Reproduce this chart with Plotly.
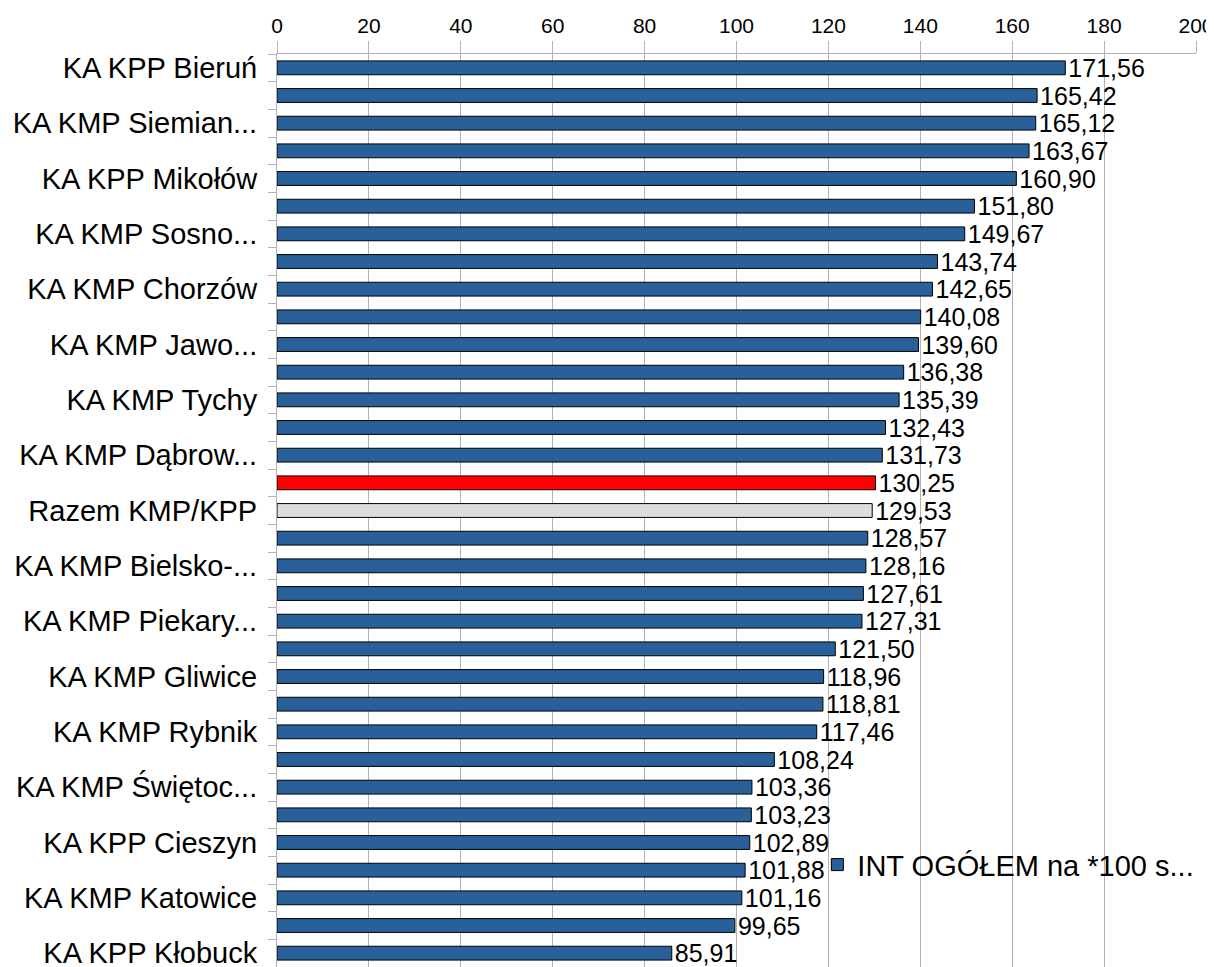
import plotly.graph_objects as go

labels = [
    "KA KPP Bieruń", "", "KA KMP Siemian...", "", "KA KPP Mikołów", "",
    "KA KMP Sosno...", "", "KA KMP Chorzów", "", "KA KMP Jawo...", "",
    "KA KMP Tychy", "", "KA KMP Dąbrow...", "", "Razem KMP/KPP", "",
    "KA KMP Bielsko-...", "", "KA KMP Piekary...", "", "KA KMP Gliwice", "",
    "KA KMP Rybnik", "", "KA KMP Świętoc...", "", "KA KPP Cieszyn", "",
    "KA KMP Katowice", "", "KA KPP Kłobuck",
]
values = [
    171.56, 165.42, 165.12, 163.67, 160.90, 151.80, 149.67, 143.74, 142.65,
    140.08, 139.60, 136.38, 135.39, 132.43, 131.73, 130.25, 129.53, 128.57,
    128.16, 127.61, 127.31, 121.50, 118.96, 118.81, 117.46, 108.24, 103.36,
    103.23, 102.89, 101.88, 101.16, 99.65, 85.91,
]
x_ticks = [0, 20, 40, 60, 80, 100, 120, 140, 160, 180, 200]
series_name = "INT OGÓŁEM na *100 s..."

BLUE = "#2a6099"
colors = [BLUE] * len(values)
colors[15] = "#ff0000"
colors[16] = "#dddddd"

pos = list(range(len(values)))
texts = [f"{v:.2f}".replace(".", ",") for v in values]

fig = go.Figure()
fig.add_trace(go.Bar(
    x=values,
    y=pos,
    orientation="h",
    name=series_name,
    width=0.5,
    marker=dict(color=colors, line=dict(color="#000000", width=1)),
    text=texts,
    textposition="outside",
    constraintext="none",
    textfont=dict(size=25, color="#000000"),
    cliponaxis=False,
    showlegend=True,
))

tick_pos = [i for i, l in enumerate(labels) if l]
tick_txt = [l for l in labels if l]

# page body adds an 8px offset, size/margins account for it
fig.update_layout(
    width=1206,
    height=959,
    margin=dict(l=269, r=18, t=46, b=0),
    plot_bgcolor="white",
    paper_bgcolor="white",
    font=dict(family="Liberation Sans", color="#000000"),
    showlegend=True,
    legend=dict(
        x=0.588, y=0.112, xanchor="left", yanchor="middle",
        font=dict(size=29), bgcolor="rgba(0,0,0,0)",
        itemwidth=30,
    ),
    xaxis=dict(
        side="top",
        range=[0, 200],
        tickvals=x_ticks,
        tickfont=dict(size=21),
        showgrid=True,
        gridcolor="#b3b3b3",
        gridwidth=1,
        ticks="outside",
        ticklen=12,
        tickcolor="#b3b3b3",
        showline=True,
        linecolor="#b3b3b3",
        zeroline=False,
        automargin=False,
    ),
    yaxis=dict(
        range=[32.5, -0.5],
        tickvals=tick_pos,
        ticktext=tick_txt,
        tickfont=dict(size=29),
        ticks="",
        ticklabelstandoff=13,
        ticklabeloverflow="allow",
        showgrid=False,
        zeroline=False,
        showline=True,
        linecolor="#b3b3b3",
        automargin=False,
        minor=dict(
            tickvals=[i - 0.5 for i in range(len(values) + 1)],
            ticks="outside",
            ticklen=8,
            tickcolor="#b3b3b3",
            showgrid=False,
        ),
    ),
)

fig.write_html("out.html")
